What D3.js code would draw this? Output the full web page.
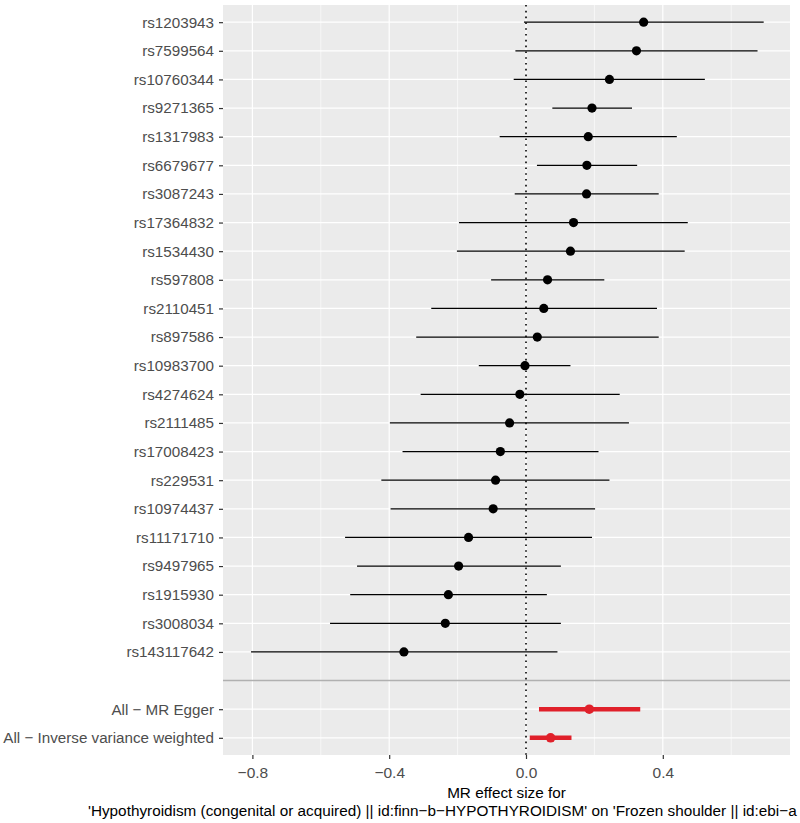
<!DOCTYPE html>
<html><head><meta charset="utf-8">
<script src="https://cdn.jsdelivr.net/npm/d3@7"></script>
<style>body{margin:0;background:#fff}svg{display:block}text{font-family:"Liberation Sans",Arial,Helvetica,sans-serif}</style>
</head><body>
<svg id="chart" width="800" height="823"></svg>
<script>
const snps = ["rs1203943","rs7599564","rs10760344","rs9271365","rs1317983","rs6679677","rs3087243","rs17364832","rs1534430","rs597808","rs2110451","rs897586","rs10983700","rs4274624","rs2111485","rs17008423","rs229531","rs10974437","rs11171710","rs9497965","rs1915930","rs3008034","rs143117642"];
const snpB  = [0.344,0.323,0.244,0.193,0.182,0.178,0.177,0.139,0.130,0.063,0.052,0.033,-0.003,-0.018,-0.048,-0.075,-0.089,-0.096,-0.168,-0.197,-0.227,-0.236,-0.357];
const snpLo = [-0.006,-0.031,-0.036,0.077,-0.077,0.032,-0.033,-0.196,-0.202,-0.102,-0.277,-0.321,-0.138,-0.308,-0.398,-0.361,-0.423,-0.396,-0.529,-0.494,-0.514,-0.573,-0.804];
const snpHi = [0.695,0.677,0.523,0.310,0.441,0.325,0.388,0.473,0.464,0.229,0.383,0.388,0.130,0.274,0.301,0.212,0.244,0.202,0.193,0.102,0.061,0.102,0.092];
const methods = ["All \u2212 MR Egger","All \u2212 Inverse variance weighted"];
const methB  = [0.185,0.072];
const methLo = [0.038,0.011];
const methHi = [0.334,0.133];
const xTicks = [-0.8,-0.4,0.0,0.4];
const xMinor = [-0.6,-0.2,0.2,0.6];
const xTitle1 = "MR effect size for";
const xTitle2 = "'Hypothyroidism (congenital or acquired) || id:finn\u2212b\u2212HYPOTHYROIDISM' on 'Frozen shoulder || id:ebi\u2212a";

const svg = d3.select("#chart");
const P = {l:223, r:790, t:5, b:755};
const x = d3.scaleLinear().domain([(P.l-526)/342,(P.r-526)/342]).range([P.l,P.r]);
const cats = snps.concat([""]).concat(methods);
const y = d3.scalePoint().domain(cats).range([P.t,P.b]).padding(0.6);

svg.append("rect").attr("x",P.l).attr("y",P.t).attr("width",P.r-P.l).attr("height",P.b-P.t).attr("fill","#ebebeb");
svg.selectAll(".gmin").data(xMinor).join("line").attr("x1",d=>x(d)).attr("x2",d=>x(d)).attr("y1",P.t).attr("y2",P.b).attr("stroke","#fff").attr("stroke-width",0.6);
svg.selectAll(".gmaj").data(xTicks).join("line").attr("x1",d=>x(d)).attr("x2",d=>x(d)).attr("y1",P.t).attr("y2",P.b).attr("stroke","#fff").attr("stroke-width",1.2);
svg.selectAll(".gy").data(cats.filter(c=>c!=="")).join("line").attr("x1",P.l).attr("x2",P.r).attr("y1",d=>y(d)).attr("y2",d=>y(d)).attr("stroke","#fff").attr("stroke-width",1.2);
svg.append("line").attr("x1",P.l).attr("x2",P.r).attr("y1",y("")).attr("y2",y("")).attr("stroke","#b0b0b0").attr("stroke-width",1.5);
svg.append("line").attr("x1",x(0)).attr("x2",x(0)).attr("y1",P.t).attr("y2",P.b).attr("stroke","#000").attr("stroke-width",1.6).attr("stroke-dasharray","1.6,4.2");

const sd = snps.map((s,i)=>({s,b:snpB[i],lo:snpLo[i],hi:snpHi[i]}));
svg.selectAll(".eb").data(sd).join("line").attr("x1",d=>x(d.lo)).attr("x2",d=>x(d.hi)).attr("y1",d=>y(d.s)).attr("y2",d=>y(d.s)).attr("stroke","#000").attr("stroke-width",1.3);
svg.selectAll(".pt").data(sd).join("circle").attr("cx",d=>x(d.b)).attr("cy",d=>y(d.s)).attr("r",4.6).attr("fill","#000");
const md = methods.map((s,i)=>({s,b:methB[i],lo:methLo[i],hi:methHi[i]}));
svg.selectAll(".meb").data(md).join("line").attr("x1",d=>x(d.lo)).attr("x2",d=>x(d.hi)).attr("y1",d=>y(d.s)).attr("y2",d=>y(d.s)).attr("stroke","#e0202a").attr("stroke-width",4.5);
svg.selectAll(".mpt").data(md).join("circle").attr("cx",d=>x(d.b)).attr("cy",d=>y(d.s)).attr("r",4.8).attr("fill","#e0202a");

const ax = svg.append("g").attr("transform",`translate(0,${P.b})`).call(d3.axisBottom(x).tickValues(xTicks).tickFormat(d=>d3.format(".1f")(d).replace("-","\u2212")).tickSizeOuter(0).tickSize(4).tickPadding(8));
ax.select(".domain").remove();
ax.selectAll("line").attr("stroke","#333").attr("stroke-width",1.2);
ax.selectAll("text").attr("fill","#4d4d4d").attr("font-size",15.5).attr("font-family",null);
const ay = svg.append("g").attr("transform",`translate(${P.l},0)`).call(d3.axisLeft(y).tickValues(cats.filter(c=>c!=="")).tickSizeOuter(0).tickSize(4).tickPadding(5));
ay.select(".domain").remove();
ay.selectAll("line").attr("stroke","#333").attr("stroke-width",1.2);
ay.selectAll("text").attr("fill","#4d4d4d").attr("font-size",15.2).attr("font-family",null);

svg.append("text").attr("x",(P.l+P.r)/2).attr("y",798).attr("text-anchor","middle").attr("font-size",15.3).attr("fill","#000").text(xTitle1);
svg.append("text").attr("x",88).attr("y",816).attr("text-anchor","start").attr("font-size",15.3).attr("fill","#000").text(xTitle2);
</script>
</body></html>
